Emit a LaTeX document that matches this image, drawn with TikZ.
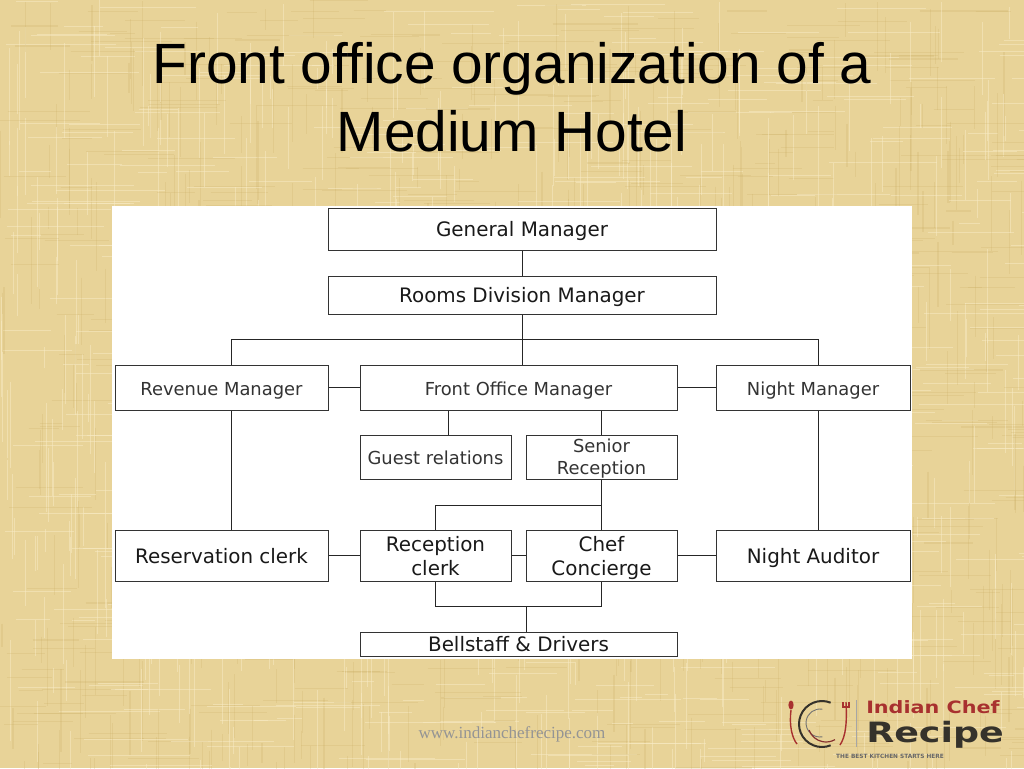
\documentclass[tikz,border=0pt]{standalone}
\usepackage{fontspec}
\setmainfont{Liberation Sans}
\newfontfamily\boxfont{DejaVu Sans}
\newfontfamily\webfont{Liberation Serif}
\usepackage{tikz}
\usetikzlibrary{positioning}
\usetikzlibrary{calc}
\definecolor{paper}{HTML}{E8D398}
\definecolor{paperlight}{HTML}{F8EBC6}
\definecolor{paperdark}{HTML}{C9AD62}
\definecolor{logored}{HTML}{A8312F}
\definecolor{logodark}{HTML}{35322B}
\tikzset{
  orgbox/.style={draw=black!80,line width=1pt,fill=white,inner sep=0pt,align=center,text=black!80,font=\boxfont\fontsize{17.9}{21.5}\selectfont},
  orgbig/.style={orgbox,text=black!90,font=\boxfont\fontsize{19.9}{24}\selectfont},
  orgone/.style={text height=15pt,text depth=0pt},
  orgline/.style={draw=black!85,line width=1pt},
}
\begin{document}
\begin{tikzpicture}[x=1pt,y=-1pt,line cap=butt]
\useasboundingbox (0,0) rectangle (1024,768);
\fill[paper] (0,0) rectangle (1024,768);
% paper weave
\pgfmathsetseed{42}
\foreach \i in {1,...,500}{
\pgfmathsetmacro{\px}{rnd*1024}
\pgfmathsetmacro{\py}{rnd*768}
\pgfmathsetmacro{\pl}{20+rnd*90}
\draw[paperlight,line width=0.9pt,opacity=0.5] (\px,\py) -- ++(0,\pl);
\pgfmathsetmacro{\qx}{rnd*1024}
\pgfmathsetmacro{\qy}{rnd*768}
\pgfmathsetmacro{\ql}{20+rnd*90}
\draw[paperlight,line width=0.9pt,opacity=0.5] (\qx,\qy) -- ++(\ql,0);
\pgfmathsetmacro{\rx}{rnd*1024}
\pgfmathsetmacro{\ry}{rnd*768}
\pgfmathsetmacro{\rl}{20+rnd*70}
\draw[paperdark,line width=1.1pt,opacity=0.22] (\rx,\ry) -- ++(0,\rl);
\pgfmathsetmacro{\sx}{rnd*1024}
\pgfmathsetmacro{\sy}{rnd*768}
\pgfmathsetmacro{\sl}{20+rnd*70}
\draw[paperdark,line width=1.1pt,opacity=0.22] (\sx,\sy) -- ++(\sl,0);
}
% title
\node[align=center,font=\fontsize{56.8}{67.5}\selectfont] (title) at (512,97) {Front office organization of a\\Medium Hotel};
% white panel
\fill[white] (112,206) rectangle (912,659);
% boxes
\node[orgbig,orgone,minimum width=388pt,minimum height=42pt] (gm) at (522,229) {General Manager};
\node[orgbig,orgone,minimum width=388pt,minimum height=38pt] (rdm) at (522,295) {Rooms Division Manager};
\node[orgbox,orgone,minimum width=213pt,minimum height=45pt] (rev) at (221.5,387.5) {Revenue Manager};
\node[orgbox,orgone,minimum width=317pt,minimum height=45pt] (fom) at (518.5,387.5) {Front Office Manager};
\node[orgbox,orgone,minimum width=194pt,minimum height=45pt] (night) at (813,387.5) {Night Manager};
\node[orgbox,orgone,minimum width=151pt,minimum height=44pt] (guest) at (435.5,457) {Guest relations};
\node[orgbox,minimum width=151pt,minimum height=44pt] (senior) at (601.5,457) {\rule{0pt}{17pt}Senior\\Reception};
\node[orgbig,orgone,minimum width=213pt,minimum height=51pt] (resv) at (221.5,555.5) {Reservation clerk};
\node[orgbig,minimum width=151pt,minimum height=51pt] (recep) at (435.5,555.5) {\rule{0pt}{17pt}Reception\\clerk};
\node[orgbig,minimum width=151pt,minimum height=51pt] (chef) at (601.5,555.5) {\rule{0pt}{21pt}Chef\\Concierge};
\node[orgbig,orgone,minimum width=194pt,minimum height=51pt] (audit) at (813,555.5) {Night Auditor};
\node[orgbig,orgone,minimum width=317pt,minimum height=24pt] (bell) at (518.5,644) {Bellstaff \& Drivers};
% bus points
\coordinate (topbus) at (522,339);
\coordinate (revtop) at (231,339);
\coordinate (nighttop) at (818,339);
\coordinate (midbus) at (602,505);
\coordinate (lowbus) at (526,606);
\coordinate (guesttop) at (448,435);
% connectors
\draw[orgline] (gm) -- (rdm);
\draw[orgline] (rdm.south) -- (rdm.south |- fom.north);
\draw[orgline] (revtop |- rev.north) -- (revtop) -- (nighttop) -- (nighttop |- night.north);
\draw[orgline] (rev) -- (fom);
\draw[orgline] (fom) -- (night);
\draw[orgline] (guesttop) -- (guesttop |- fom.south);
\draw[orgline] (senior.north) -- (senior.north |- fom.south);
\draw[orgline] (revtop |- rev.south) -- (revtop |- resv.north);
\draw[orgline] (nighttop |- night.south) -- (nighttop |- audit.north);
\draw[orgline] (senior.south) -- (chef.north);
\draw[orgline] (recep.north) -- (recep.north |- midbus) -- (midbus);
\draw[orgline] (resv) -- (recep);
\draw[orgline] (recep) -- (chef);
\draw[orgline] (chef) -- (audit);
\draw[orgline] (recep.south) -- (recep.south |- lowbus) -- (chef.south |- lowbus) -- (chef.south);
\draw[orgline] (lowbus) -- (lowbus |- bell.north);
% footer
\node[text=black!42,font=\webfont\fontsize{17}{20}\selectfont] (web) at (512,734) {www.indianchefrecipe.com};
% logo
\draw[logodark,line width=2pt] (822,724) ++(-68:23) arc (-68:-292:23);
\draw[black!55,line width=0.9pt] (820,723) ++(-80:14) arc (-80:-280:14);
\draw[logored!70!logodark,line width=1.2pt] (826,724) ++(-200:18) arc (-200:-300:18);
\fill[logored] (791,705) ellipse (2.6pt and 4.5pt);
\draw[logored,line width=1.4pt] (791,710) .. controls (789,725) and (792,738) .. (797,744);
\draw[logored,line width=1.4pt] (846,702) .. controls (847,722) and (846,736) .. (840,745);
\draw[logored,line width=1.2pt] (843,702) -- (843,707) -- (849,707) -- (849,702);
\draw[black!35,line width=0.7pt] (856,700) -- (856,747);
\node[anchor=west,inner sep=0pt,text=logored,xscale=1.22,font=\boxfont\bfseries\fontsize{17}{20}\selectfont] (logoa) at (866,707) {Indian Chef};
\node[anchor=west,inner sep=0pt,text=logodark,xscale=1.3,font=\boxfont\bfseries\fontsize{28}{32}\selectfont] (logob) at (866,735) {Recipe};
\node[anchor=west,inner sep=0pt,text=black!60,font=\boxfont\bfseries\fontsize{5.8}{7}\selectfont] (logoc) at (836,756) {THE BEST KITCHEN STARTS HERE};
\end{tikzpicture}
\end{document}
